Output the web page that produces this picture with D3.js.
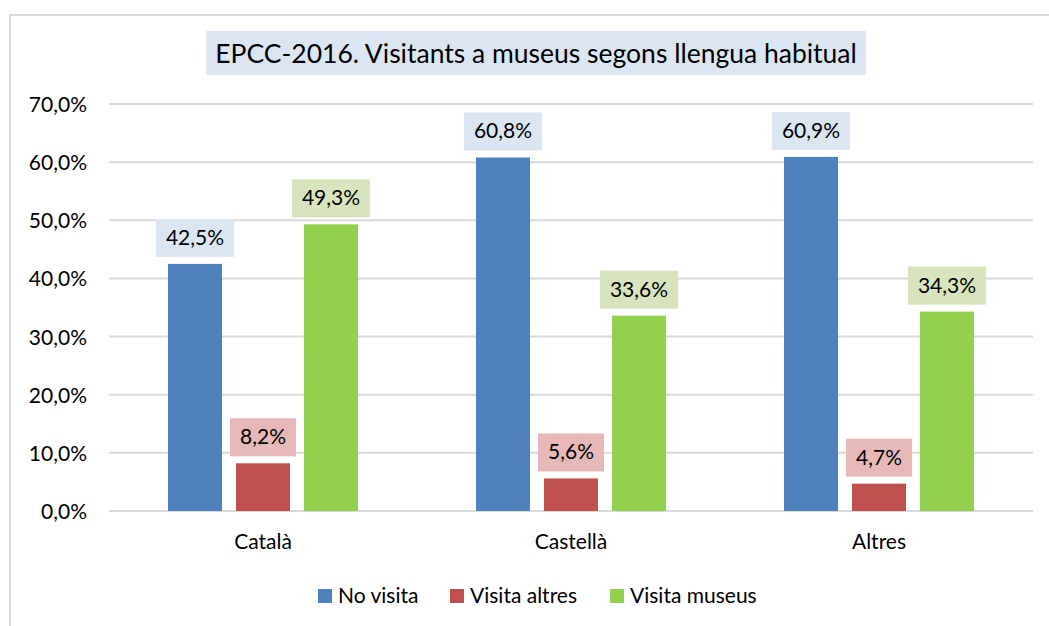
<!DOCTYPE html>
<meta charset="utf-8">
<body style="margin:0;background:#fff">
<style>
  text { font-family: Lato, "Open Sans", sans-serif; fill: #000; }
  .grid line { stroke: #d9d9d9; stroke-width: 2; }
  .tick text { font-size: 21px; }
</style>
<svg width="1049" height="626"></svg>
<script src="https://d3js.org/d3.v7.min.js"></script>
<script>
// Data
var categories = ["Català", "Castellà", "Altres"];
var series = ["No visita", "Visita altres", "Visita museus"];
var noVisita = [42.5, 60.8, 60.9];
var visitaAltres = [8.2, 5.6, 4.7];
var visitaMuseus = [49.3, 33.6, 34.3];
var yTicks = [0, 10, 20, 30, 40, 50, 60, 70];

var values = [noVisita, visitaAltres, visitaMuseus];
var barColors = ["#4f81bd", "#c0504d", "#92d050"];
var labelColors = ["#dce6f2", "#e6b9b8", "#d7e4bd"];

var svg = d3.select("svg");

// outer chart border
svg.append("rect")
    .attr("x", 10).attr("y", 15)
    .attr("width", 1100).attr("height", 700)
    .attr("fill", "none")
    .attr("stroke", "#d9d9d9")
    .attr("stroke-width", 2);

var x0 = d3.scaleBand().domain(categories).range([109, 1033]).paddingInner(0).paddingOuter(0);
var x1 = d3.scaleBand().domain(series).range([59, 308 - 59]).paddingInner(0.206);
var y = d3.scaleLinear().domain([0, 70]).range([511, 104]);

var fmt = function(v) { return v.toFixed(1).replace(".", ",") + "%"; };

// gridlines
svg.append("g")
    .attr("class", "grid")
    .selectAll("line")
    .data(yTicks)
    .enter().append("line")
    .attr("x1", 109).attr("x2", 1033)
    .attr("y1", function(d) { return y(d); })
    .attr("y2", function(d) { return y(d); });

// y axis labels
var yAxis = svg.append("g")
    .attr("transform", "translate(87,0)")
    .call(d3.axisLeft(y).tickValues(yTicks).tickSize(0).tickPadding(0).tickFormat(fmt));
yAxis.select(".domain").remove();
yAxis.selectAll("text").attr("dy", "0.36em");

// x axis labels
var xAxis = svg.append("g")
    .attr("transform", "translate(0,530)")
    .call(d3.axisBottom(x0).tickSize(0).tickPadding(0));
xAxis.select(".domain").remove();
xAxis.selectAll("text").attr("dy", "0.9em");

// bars
var groups = svg.selectAll(".grp")
    .data(categories)
    .enter().append("g")
    .attr("class", "grp")
    .attr("transform", function(d) { return "translate(" + x0(d) + ",0)"; });

series.forEach(function(s, si) {
    groups.append("rect")
        .attr("x", x1(s))
        .attr("width", x1.bandwidth())
        .attr("y", function(d, i) { return y(values[si][i]); })
        .attr("height", function(d, i) { return y(0) - y(values[si][i]); })
        .attr("fill", barColors[si]);

    // data labels with box
    groups.each(function(d, i) {
        var g = d3.select(this);
        var v = values[si][i];
        var cx = x1(s) + x1.bandwidth() / 2;
        var lb = g.append("g");
        var rect = lb.append("rect").attr("fill", labelColors[si]);
        var t = lb.append("text")
            .attr("x", cx)
            .attr("y", y(v) - 19)
            .attr("text-anchor", "middle")
            .attr("font-size", "21px")
            .text(fmt(v));
        var w = t.node().getComputedTextLength() + 20;
        rect.attr("x", cx - w / 2).attr("width", w)
            .attr("y", y(v) - 45).attr("height", 38);
    });
});

// title
var title = svg.append("g");
var titleRect = title.append("rect").attr("fill", "#dce6f2");
var titleText = title.append("text")
    .attr("x", 536).attr("y", 63)
    .attr("text-anchor", "middle")
    .attr("font-size", "26.5px")
    .text("EPCC-2016. Visitants a museus segons llengua habitual");
var tw = titleText.node().getComputedTextLength() + 18;
titleRect.attr("x", 536 - tw / 2).attr("width", tw).attr("y", 31).attr("height", 44);

// legend
var legendX = [318, 450, 610];
var legend = svg.append("g");
series.forEach(function(s, i) {
    legend.append("rect")
        .attr("x", legendX[i]).attr("y", 589)
        .attr("width", 14).attr("height", 14)
        .attr("fill", barColors[i]);
    legend.append("text")
        .attr("x", legendX[i] + 20).attr("y", 603)
        .attr("font-size", "21px")
        .text(s);
});
</script>
</body>
